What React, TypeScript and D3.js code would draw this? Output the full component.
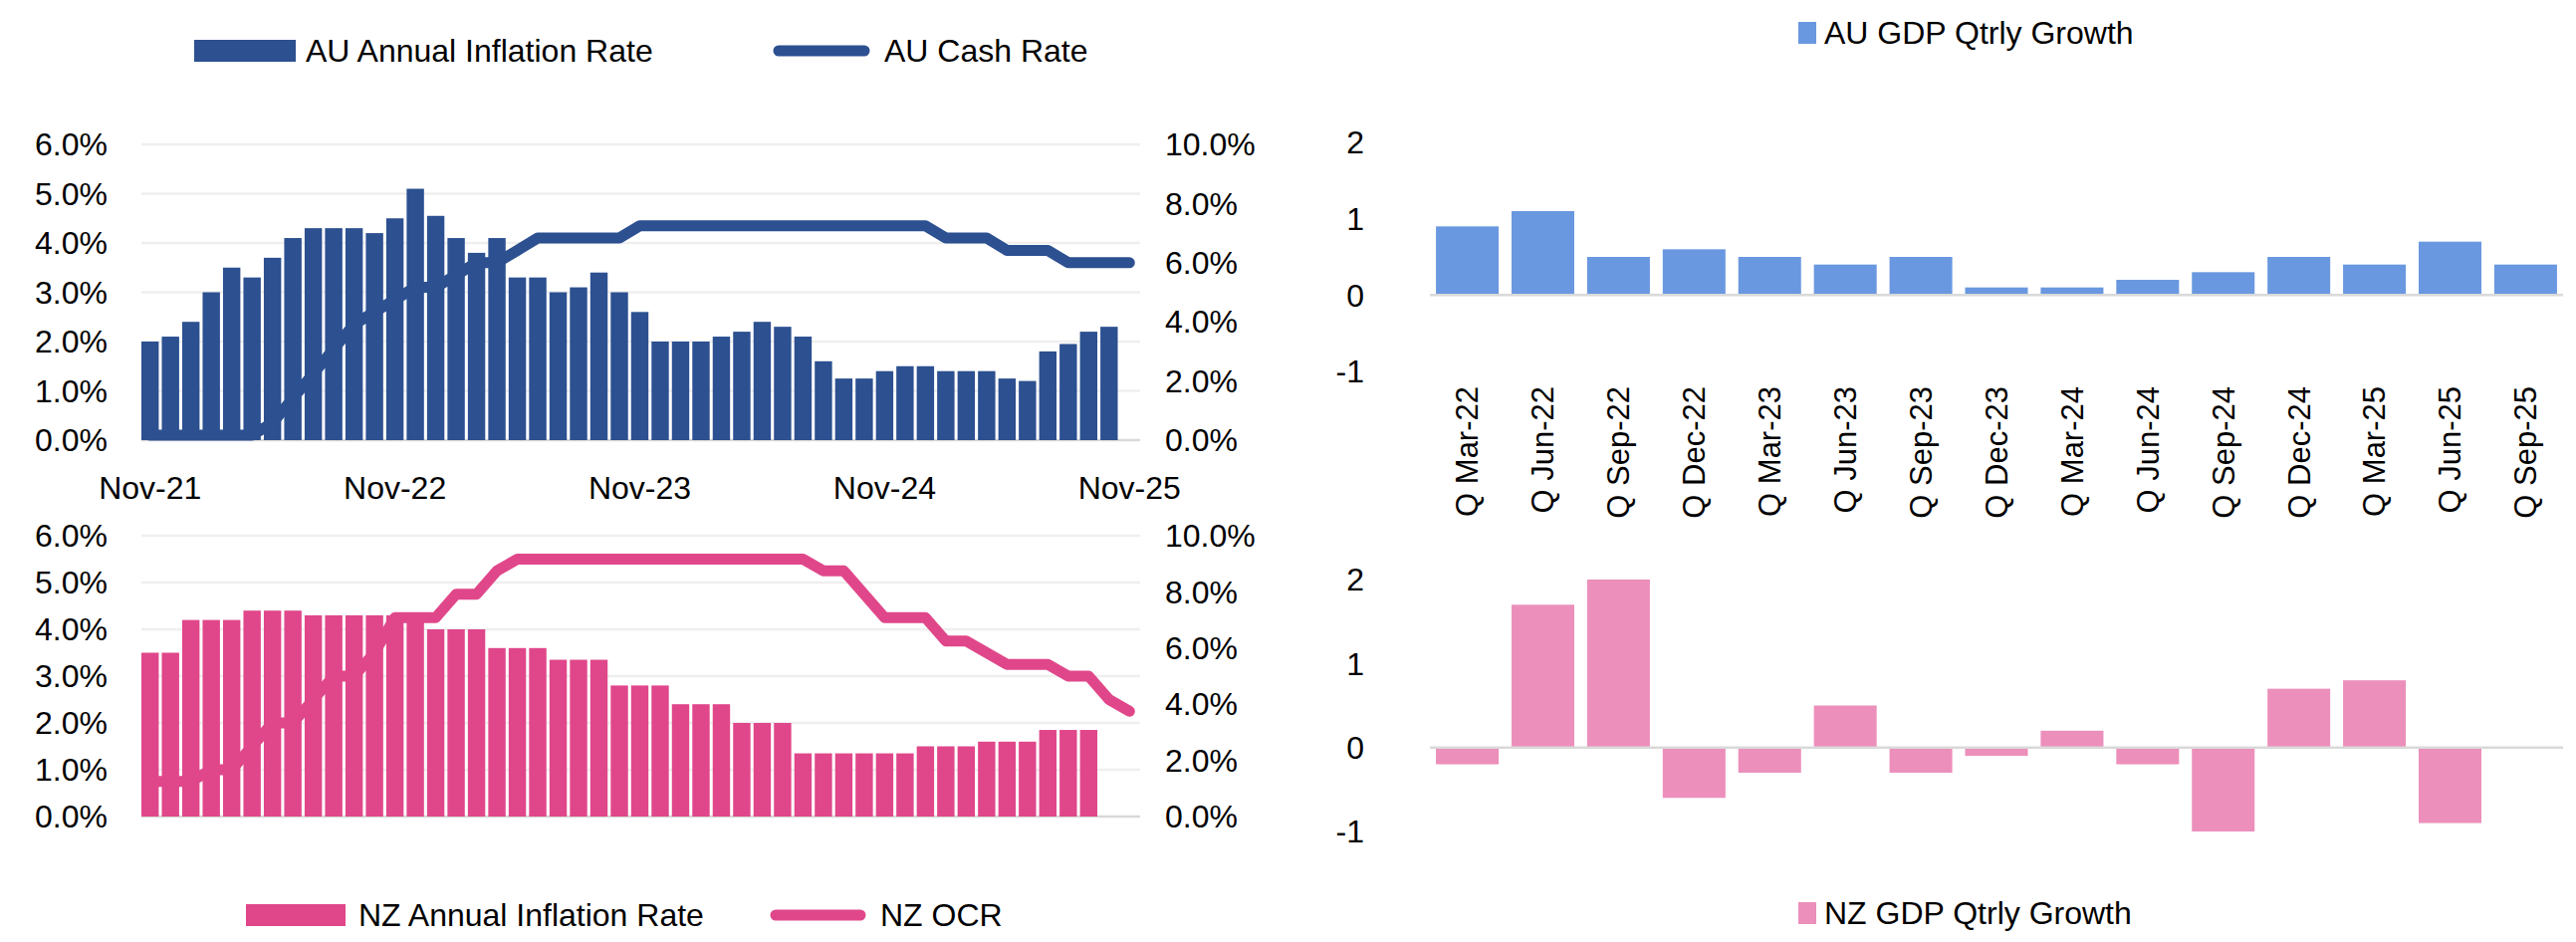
import React from 'react';
import * as d3 from 'd3';

const auInflation = [2.0, 2.1, 2.4, 3.0, 3.5, 3.3, 3.7, 4.1, 4.3, 4.3, 4.3, 4.2, 4.5, 5.1, 4.55, 4.1, 3.8, 4.1, 3.3, 3.3, 3.0, 3.1, 3.4, 3.0, 2.6, 2.0, 2.0, 2.0, 2.1, 2.2, 2.4, 2.3, 2.1, 1.6, 1.25, 1.25, 1.4, 1.5, 1.5, 1.4, 1.4, 1.4, 1.25, 1.2, 1.8, 1.95, 2.2, 2.3];
const auCash = [0.1, 0.1, 0.1, 0.1, 0.1, 0.1, 0.35, 0.85, 1.35, 1.85, 2.35, 2.6, 2.85, 3.1, 3.1, 3.35, 3.6, 3.6, 3.85, 4.1, 4.1, 4.1, 4.1, 4.1, 4.35, 4.35, 4.35, 4.35, 4.35, 4.35, 4.35, 4.35, 4.35, 4.35, 4.35, 4.35, 4.35, 4.35, 4.35, 4.1, 4.1, 4.1, 3.85, 3.85, 3.85, 3.6, 3.6, 3.6, 3.6];
const nzInflation = [3.5, 3.5, 4.2, 4.2, 4.2, 4.4, 4.4, 4.4, 4.3, 4.3, 4.3, 4.3, 4.3, 4.3, 4.0, 4.0, 4.0, 3.6, 3.6, 3.6, 3.35, 3.35, 3.35, 2.8, 2.8, 2.8, 2.4, 2.4, 2.4, 2.0, 2.0, 2.0, 1.35, 1.35, 1.35, 1.35, 1.35, 1.35, 1.5, 1.5, 1.5, 1.6, 1.6, 1.6, 1.85, 1.85, 1.85];
const nzOcr = [0.75, 0.75, 0.75, 1.0, 1.0, 1.5, 2.0, 2.0, 2.5, 3.0, 3.0, 3.5, 4.25, 4.25, 4.25, 4.75, 4.75, 5.25, 5.5, 5.5, 5.5, 5.5, 5.5, 5.5, 5.5, 5.5, 5.5, 5.5, 5.5, 5.5, 5.5, 5.5, 5.5, 5.25, 5.25, 4.75, 4.25, 4.25, 4.25, 3.75, 3.75, 3.5, 3.25, 3.25, 3.25, 3.0, 3.0, 2.5, 2.25];
const monthTicks = [[0, 'Nov-21'], [12, 'Nov-22'], [24, 'Nov-23'], [36, 'Nov-24'], [48, 'Nov-25']] as [number, string][];
const leftTicks = [0, 1, 2, 3, 4, 5, 6];
const rightTicks = [0, 2, 4, 6, 8, 10];

const quarters = ['Q Mar-22', 'Q Jun-22', 'Q Sep-22', 'Q Dec-22', 'Q Mar-23', 'Q Jun-23', 'Q Sep-23', 'Q Dec-23', 'Q Mar-24', 'Q Jun-24', 'Q Sep-24', 'Q Dec-24', 'Q Mar-25', 'Q Jun-25', 'Q Sep-25'];
const auGdp = [0.9, 1.1, 0.5, 0.6, 0.5, 0.4, 0.5, 0.1, 0.1, 0.2, 0.3, 0.5, 0.4, 0.7, 0.4];
const nzGdp: (number | null)[] = [-0.2, 1.7, 2.0, -0.6, -0.3, 0.5, -0.3, -0.1, 0.2, -0.2, -1.0, 0.7, 0.8, -0.9, null];
const gdpTicks = [-1, 0, 1, 2];

const FONT = 'Liberation Sans, Arial, sans-serif';
const FS = 32;
const AU = '#2c5090';
const NZ = '#e0478a';
const AUG = '#6a98e0';
const NZG = '#ec8fbb';

const months = d3.range(49);
const xm = d3.scaleBand<number>().domain(months).range([142, 1143]).paddingInner(0.15).paddingOuter(0);

function Combo({ top, bottom, bars, line, color }: { top: number; bottom: number; bars: number[]; line: number[]; color: string }) {
  const y = d3.scaleLinear().domain([0, 6]).range([bottom, top]);
  const yr = d3.scaleLinear().domain([0, 10]).range([bottom, top]);
  const cx = (i: number) => xm(i)! + xm.bandwidth() / 2;
  const path = d3.line<number>().x((_, i) => cx(i)).y(d => y(d))(line)!;
  return (
    <g>
      {leftTicks.map(t => (
        <g key={t}>
          <line x1={142} x2={1145} y1={y(t)} y2={y(t)} stroke={t === 0 ? '#d9d9d9' : '#efefef'} strokeWidth={2.5} />
          <text x={108} y={y(t)} dy="0.35em" textAnchor="end" fontSize={FS}>{t.toFixed(1)}%</text>
        </g>
      ))}
      {rightTicks.map(t => (
        <text key={t} x={1170} y={yr(t)} dy="0.35em" fontSize={FS}>{t.toFixed(1)}%</text>
      ))}
      {bars.map((v, i) => (
        <rect key={i} x={xm(i)} y={y(v)} width={xm.bandwidth()} height={y(0) - y(v)} fill={color} />
      ))}
      <path d={path} fill="none" stroke={color} strokeWidth={11} strokeLinejoin="round" strokeLinecap="round" />
    </g>
  );
}

function Gdp({ top, bottom, vals, color, labels }: { top: number; bottom: number; vals: (number | null)[]; color: string; labels: boolean }) {
  const x = d3.scaleBand<string>().domain(quarters).range([1436, 2574]).paddingInner(0.17).paddingOuter(0.08);
  const y = d3.scaleLinear().domain([-1, 2]).range([bottom, top]);
  return (
    <g>
      {gdpTicks.map(t => (
        <text key={t} x={1370} y={y(t)} dy="0.35em" textAnchor="end" fontSize={FS}>{t}</text>
      ))}
      {vals.map((v, i) => v === null ? null : (
        <rect key={i} x={x(quarters[i])} y={y(Math.max(0, v))} width={x.bandwidth()} height={Math.abs(y(v) - y(0))} fill={color} />
      ))}
      <line x1={1436} x2={2574} y1={y(0)} y2={y(0)} stroke="#d9d9d9" strokeWidth={2.5} />
      {labels && quarters.map(q => {
        const lx = x(q)! + x.bandwidth() / 2;
        return (
          <text key={q} transform={`translate(${lx},${388}) rotate(-90)`} dy="0.35em" textAnchor="end" fontSize={31}>{q}</text>
        );
      })}
    </g>
  );
}

export default function App() {
  return (
    <svg width={2587} height={946} style={{ display: 'block', margin: -8 }} fontFamily={FONT} fill="#000">
      <rect width={2587} height={946} fill="#fff" />
      {/* AU legend */}
      <rect x={195} y={40} width={102} height={22} fill={AU} />
      <text x={307} y={51} dy="0.35em" fontSize={FS}>AU Annual Inflation Rate</text>
      <line x1={782} x2={868} y1={51} y2={51} stroke={AU} strokeWidth={11} strokeLinecap="round" />
      <text x={888} y={51} dy="0.35em" fontSize={FS}>AU Cash Rate</text>

      <Combo top={145} bottom={442} bars={auInflation} line={auCash} color={AU} />
      {monthTicks.map(([i, l]) => (
        <text key={l} x={xm(i)! + xm.bandwidth() / 2} y={490} dy="0.35em" textAnchor="middle" fontSize={FS}>{l}</text>
      ))}
      <Combo top={538} bottom={820} bars={nzInflation} line={nzOcr} color={NZ} />

      {/* NZ legend */}
      <rect x={247} y={908} width={100} height={22} fill={NZ} />
      <text x={360} y={919} dy="0.35em" fontSize={FS}>NZ Annual Inflation Rate</text>
      <line x1={779} x2={864} y1={919} y2={919} stroke={NZ} strokeWidth={11} strokeLinecap="round" />
      <text x={884} y={919} dy="0.35em" fontSize={FS}>NZ OCR</text>

      {/* GDP */}
      <rect x={1806} y={22} width={18} height={22} fill={AUG} />
      <text x={1832} y={33} dy="0.35em" fontSize={FS}>AU GDP Qtrly Growth</text>
      <Gdp top={143} bottom={373} vals={auGdp} color={AUG} labels={true} />
      <Gdp top={582} bottom={835} vals={nzGdp} color={NZG} labels={false} />
      <rect x={1806} y={906} width={18} height={22} fill={NZG} />
      <text x={1832} y={917} dy="0.35em" fontSize={FS}>NZ GDP Qtrly Growth</text>
    </svg>
  );
}
